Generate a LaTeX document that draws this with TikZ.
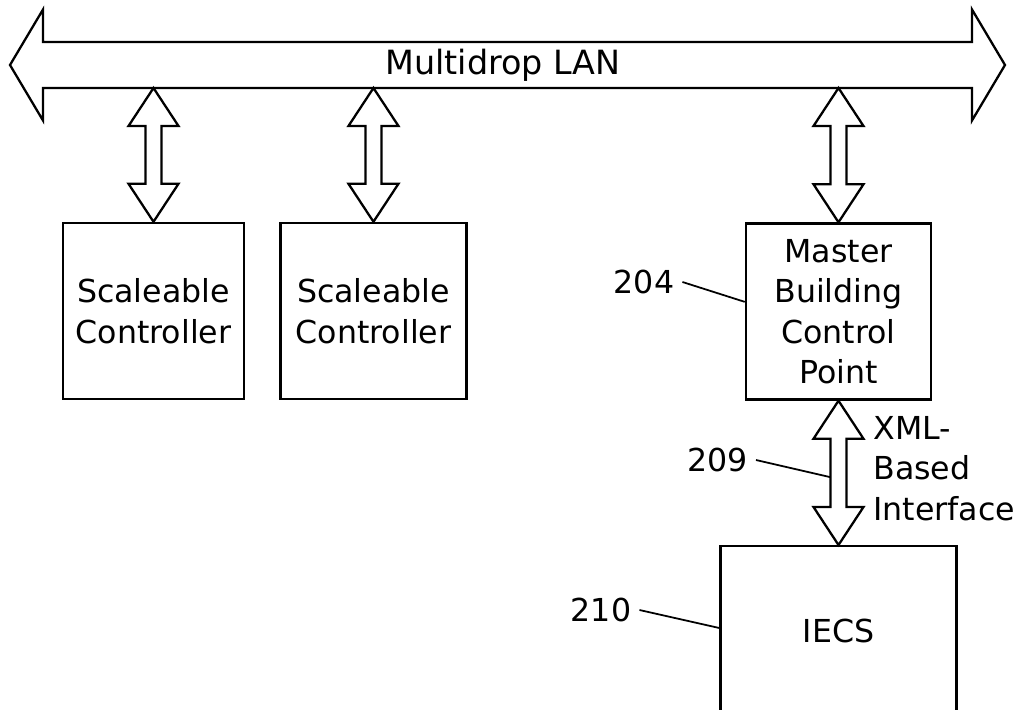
\documentclass[tikz,border=0pt]{standalone}
\usepackage{fontspec}
\setsansfont{DejaVu Sans}
\usetikzlibrary{positioning, calc}

\begin{document}
\begin{tikzpicture}[
    font=\sffamily\fontsize{18}{23}\selectfont,
    unit/.style={draw, line width=1.4pt, minimum width=3.62cm, minimum height=3.52cm, align=center, inner sep=0pt},
    bus/.style={draw, line width=1.3pt, line join=miter},
    lead/.style={draw, line width=1pt},
    refnum/.style={inner xsep=4.5pt, inner ysep=0pt},
]

% --- Frame ---
\useasboundingbox (0,0) rectangle (20.6,-14.2);
\clip (0,0) rectangle (20.6,-14.2);

% --- Multidrop LAN bus ---
\coordinate (lanW) at (0.2,-1.3);
\coordinate (lanE) at (20.1,-1.3);
\coordinate (lanS) at (0,-1.76);
\draw[bus] (lanW) -- ($(lanW)+(0.66,1.11)$) -- ($(lanW)+(0.66,0.46)$)
    -- ($(lanE)+(-0.66,0.46)$) -- ($(lanE)+(-0.66,1.11)$) -- (lanE)
    -- ($(lanE)+(-0.66,-1.11)$) -- ($(lanE)+(-0.66,-0.46)$)
    -- ($(lanW)+(0.66,-0.46)$) -- ($(lanW)+(0.66,-1.11)$) -- cycle;
\node[font=\sffamily\fontsize{19}{23}\selectfont] (lan) at (10.06,-1.3) {Multidrop LAN};

% --- Controllers ---
\node[unit] (sc1) at (3.07,-6.22) {Scaleable\\Controller};
\node[unit, minimum width=3.72cm, right=0.68cm of sc1] (sc2) {Scaleable\\Controller};
\node[unit, minimum width=3.70cm] (mbcp) at (16.77,-6.23) {Master\\Building\\Control\\Point};
\node[unit, minimum width=4.72cm, minimum height=3.4cm, anchor=north] (iecs) at (16.77,-10.9) {IECS};

% --- Taps on the LAN ---
\coordinate (tap1) at (sc1.north |- lanS);
\coordinate (tap2) at (sc2.north |- lanS);
\coordinate (tap3) at (mbcp.north |- lanS);

% --- Two-way links ---
\foreach \a/\b in {tap1/sc1.north, tap2/sc2.north, tap3/mbcp.north, mbcp.south/iecs.north}{
  \draw[bus] (\a) -- ++(0.5,-0.76) -- ++(-0.34,0) -- ($(\b)+(0.16,0.76)$) -- ++(0.34,0)
      -- (\b) -- ++(-0.5,0.76) -- ++(0.34,0) -- ($(\a)+(-0.16,-0.76)$) -- ++(-0.34,0) -- cycle;
}

% --- Interface label ---
\node[align=left, anchor=west, inner sep=0pt] (xml) at ($(mbcp.south)!0.47!(iecs.north)+(0.69,0)$) {XML-\\Based\\Interface};

% --- Reference numerals ---
\node[refnum] (n204) at (12.88,-5.64) {204};
\draw[lead] (n204.east) -- ($(mbcp.north west)!0.446!(mbcp.south west)$);
\node[refnum] (n209) at (14.35,-9.2) {209};
\draw[lead] (n209.east) -- ($(mbcp.south)!0.53!(iecs.north)+(-0.16,0)$);
\node[refnum] (n210) at (12.02,-12.2) {210};
\draw[lead] (n210.east) -- ($(iecs.north west)+(0,-1.66)$);

\end{tikzpicture}
\end{document}
